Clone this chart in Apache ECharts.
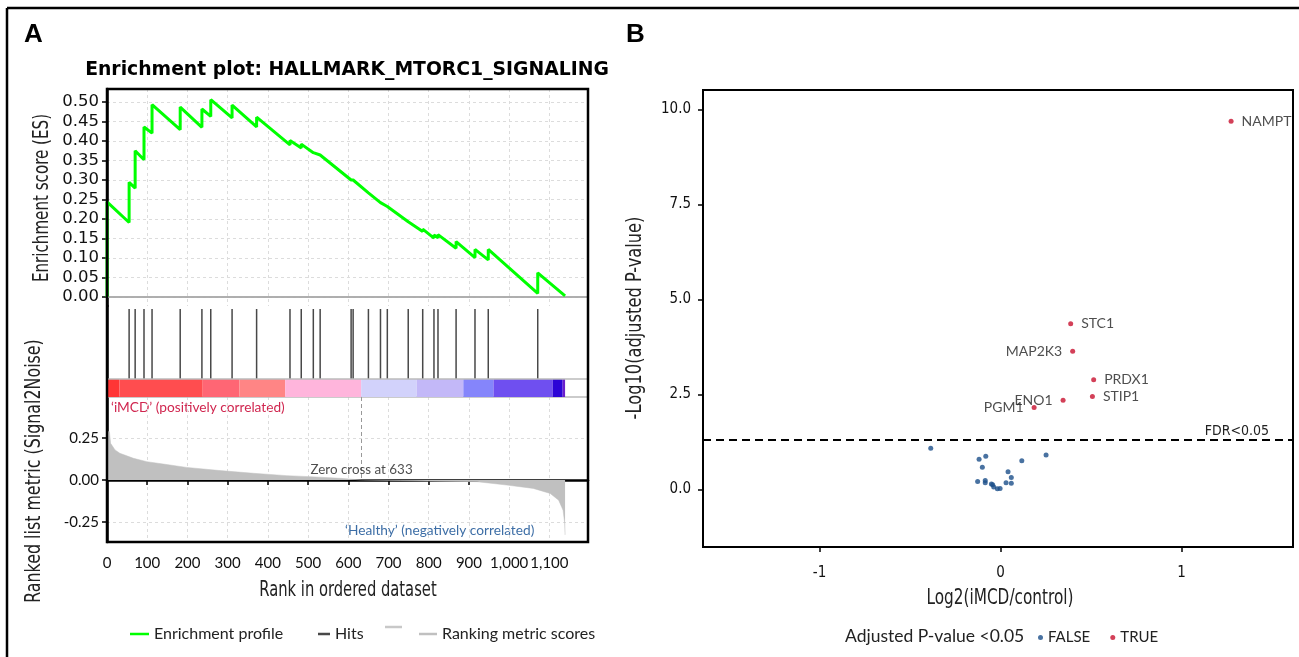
<!DOCTYPE html>
<html><head><meta charset="utf-8">
<script src="https://cdn.jsdelivr.net/npm/echarts@6/dist/echarts.min.js"></script>
<style>html,body{margin:0;padding:0;background:#fff}#c{width:1299px;height:657px}</style>
</head><body><div id="c"></div>
<script>
// ---------------- DATA ----------------
// Running enrichment score vertices (rank, ES)
const esRanks  = [0,0,55,55,70,70,92,92,112,112,182,182,236,236,258,258,311,311,372,372,455,455,483,483,513,513,530,530,607,607,612,612,650,650,680,680,697,697,749,749,785,785,813,813,823,823,868,868,915,915,948,948,1071,1071,1139];
const esValues = [0,0.244,0.191,0.294,0.279,0.375,0.352,0.436,0.420,0.493,0.429,0.487,0.435,0.482,0.463,0.506,0.459,0.492,0.436,0.461,0.390,0.401,0.382,0.392,0.370,0.375,0.364,0.368,0.300,0.304,0.300,0.303,0.267,0.270,0.242,0.246,0.232,0.236,0.193,0.198,0.168,0.174,0.151,0.159,0.152,0.160,0.125,0.142,0.101,0.122,0.095,0.122,0.009,0.062,0.003];
// Gene-set hit positions in the ranked list
const hitRanks = [0,55,70,92,112,182,236,258,311,372,455,483,513,530,607,612,650,680,697,749,785,813,823,868,915,948,1071];
// Ranked list metric (Signal2Noise)
const metricRanks  = [0,6,9,20,32,66,99,140,198,281,364,447,505,580,633,729,800,920,994,1060,1102,1123,1134,1138,1139];
const metricValues = [0.29,0.287,0.218,0.179,0.159,0.129,0.109,0.095,0.075,0.056,0.040,0.026,0.020,0.010,0,-0.003,-0.006,-0.01,-0.03,-0.05,-0.08,-0.12,-0.18,-0.256,-0.327];
// Heat bar segments (rank start / end)
const barStarts = [0,31,238,329,443,632,770,886,961,1108,1133];
const barEnds   = [31,238,329,443,632,770,886,961,1108,1133,1139];
const zeroCross = 633;
const rankTicks = [0,100,200,300,400,500,600,700,800,900,1000,1100];
const esTicks = [0,0.05,0.10,0.15,0.20,0.25,0.30,0.35,0.40,0.45,0.50];
const metricTicks = [-0.25,0,0.25];

// Panel B volcano
const sigGenes   = ['NAMPT','STC1','MAP2K3','PRDX1','STIP1','ENO1','PGM1'];
const sigLog2FC  = [1.273,0.387,0.398,0.514,0.507,0.345,0.185];
const sigNegLogP = [9.69,4.36,3.64,2.89,2.45,2.35,2.16];
const nsLog2FC   = [-0.386,-0.119,-0.082,-0.101,0.117,0.251,0.041,0.059,-0.127,-0.085,-0.085,-0.051,-0.044,-0.038,-0.018,-0.003,0.030,0.059];
const nsNegLogP  = [1.09,0.80,0.88,0.59,0.76,0.91,0.47,0.32,0.21,0.24,0.18,0.15,0.13,0.07,0.02,0.03,0.18,0.17];
const fdrThreshold = 1.301;
const volXTicks = [-1,0,1];
const volYTicks = [0,2.5,5,7.5,10];

// ---------------- STYLE ----------------
const barColors = ['#ff3535','#ff4d4f','#ff6674','#ff8585','#ffb5dc','#d2d2fb','#c3b8f8','#8585fb','#6f4ff0','#2c04d6','#6a1fcc'];
const labelSide = {NAMPT:'right',STC1:'right',MAP2K3:'left',PRDX1:'right',STIP1:'right',ENO1:'left',PGM1:'left'};
const FONT = 'Lato, "Noto Sans", sans-serif';
const WIDE = '"DejaVu Sans", sans-serif';
const COND = '"DejaVu Sans Condensed", "Liberation Sans Narrow", "Roboto Condensed", Roboto, sans-serif';
const XMAX = 1196;

const chart = echarts.init(document.getElementById('c'), null, {renderer:'canvas'});
const gridDash = {show:true, lineStyle:{color:'#dcdcdc', type:[3,3], width:1}};
const rankAxisBase = {type:'value', min:0, max:XMAX, interval:100, axisLabel:{show:false}, axisTick:{show:false}};

const option = {
  backgroundColor:'#fff',
  animation:false,
  textStyle:{fontFamily:FONT},
  grid:[
    {left:107, right:1299-588, top:89, height:217},      // ES
    {left:107, right:1299-588, top:306, height:91},      // hits + bar
    {left:107, right:1299-588, top:397, height:145},     // metric
    {left:703, right:6, top:90, bottom:110, show:true, borderColor:'#000', borderWidth:2} // volcano
  ],
  xAxis:[
    Object.assign({}, rankAxisBase, {gridIndex:0, axisLine:{show:true, lineStyle:{color:'#aaa', width:1.5}}, splitLine:gridDash}),
    Object.assign({}, rankAxisBase, {gridIndex:1, axisLine:{show:true, lineStyle:{color:'#bbb', width:1.5}}, splitLine:{show:false}}),
    Object.assign({}, rankAxisBase, {gridIndex:2, axisLine:{show:true, lineStyle:{color:'#000', width:2.5}},
      axisTick:{show:true, inside:false, length:5, customValues:rankTicks, lineStyle:{color:'#000', width:1.5}},
      axisLabel:{show:true, customValues:rankTicks, margin:14, fontSize:15, color:'#111', fontFamily:FONT,
        formatter:v=>v.toLocaleString('en-US')}, splitLine:gridDash}),
    {type:'value', gridIndex:3, min:-1.644, max:1.615,
      axisLine:{show:true, onZero:false, lineStyle:{color:'#000', width:2}},
      axisTick:{show:true, length:5, customValues:volXTicks, lineStyle:{color:'#000', width:1.5}},
      axisLabel:{show:true, customValues:volXTicks, margin:19, fontSize:15, color:'#111', fontFamily:COND},
      splitLine:{show:false}}
  ],
  yAxis:[
    {type:'value', gridIndex:0, min:-0.0231, max:0.5333,
      axisLine:{show:true, lineStyle:{color:'#000', width:2.5}},
      axisTick:{show:true, length:5, customValues:esTicks, lineStyle:{color:'#000', width:1.5}},
      axisLabel:{show:true, customValues:esTicks, margin:8, fontSize:16.5, color:'#111', fontFamily:WIDE, formatter:v=>v.toFixed(2)},
      splitLine:gridDash},
    {type:'value', gridIndex:1, min:0, max:1, axisLine:{show:true, lineStyle:{color:'#000', width:2.5}},
      axisTick:{show:false}, axisLabel:{show:false}, splitLine:{show:false}},
    {type:'value', gridIndex:2, min:-0.369, max:0.494,
      axisLine:{show:true, lineStyle:{color:'#000', width:2.5}},
      axisTick:{show:true, length:5, customValues:metricTicks, lineStyle:{color:'#000', width:1.5}},
      axisLabel:{show:true, customValues:metricTicks, margin:8, fontSize:15, color:'#111', formatter:v=>v.toFixed(2)},
      splitLine:gridDash},
    {type:'value', gridIndex:3, min:-1.51, max:10.51,
      axisLine:{show:true, onZero:false, lineStyle:{color:'#000', width:2}},
      axisTick:{show:true, length:5, customValues:volYTicks, lineStyle:{color:'#000', width:1.5}},
      axisLabel:{show:true, customValues:volYTicks, margin:12, fontSize:15, color:'#111', fontFamily:COND, formatter:v=>v.toFixed(1)},
      splitLine:{show:false}}
  ],
  legend:[
    {data:['Enrichment profile'], left:130, top:626, padding:0, icon:'rect', itemWidth:19, itemHeight:2.5,
      textStyle:{fontSize:16, color:'#222', fontFamily:FONT}},
    {data:['Hits'], left:318, top:626, padding:0, icon:'rect', itemWidth:12, itemHeight:2.5,
      textStyle:{fontSize:16, color:'#222', fontFamily:FONT}},
    {data:['Ranking metric scores'], left:419, top:626, padding:0, icon:'rect', itemWidth:18, itemHeight:2.5,
      textStyle:{fontSize:16, color:'#222', fontFamily:FONT}},
    {data:['FALSE','TRUE'], left:1038, top:630, padding:0, icon:'circle', itemWidth:5, itemHeight:5, itemGap:20,
      textStyle:{fontSize:15, color:'#222', fontFamily:FONT}}
  ],
  series:[
    {name:'Enrichment profile', type:'line', xAxisIndex:0, yAxisIndex:0, showSymbol:false, z:5,
      data:esRanks.map((r,i)=>[r, esValues[i]]),
      itemStyle:{color:'#00ff00'}, lineStyle:{color:'#00ff00', width:3},
      markLine:{silent:true, symbol:'none', label:{show:false}, lineStyle:{color:'#aaa', type:'solid', width:1.5},
        data:[{yAxis:0}]}},
    {name:'Hits', type:'scatter', xAxisIndex:1, yAxisIndex:1, symbol:'rect', symbolSize:[1.5,70], z:4,
      data:hitRanks.map(r=>[r, 0.5825]), itemStyle:{color:'#1a1a1a'}},
    {name:'heatbar', type:'custom', xAxisIndex:1, yAxisIndex:1, z:3,
      data:barStarts.map((s,i)=>[s, barEnds[i]]),
      encode:{x:[0,1]},
      renderItem:(params, api)=>{
        const a = api.coord([api.value(0), 0.198]);
        const b = api.coord([api.value(1), 0]);
        return {type:'rect', shape:{x:a[0], y:a[1], width:b[0]-a[0], height:b[1]-a[1]},
          style:{fill:barColors[params.dataIndex]}};
      },
      markLine:{silent:true, symbol:'none', label:{show:false}, lineStyle:{color:'#bbb', type:'solid', width:1.5},
        data:[{yAxis:0.198}]}},
    {name:'Ranking metric scores', type:'line', xAxisIndex:2, yAxisIndex:2, showSymbol:false, z:3,
      data:metricRanks.map((r,i)=>[r, metricValues[i]]),
      itemStyle:{color:'#c0c0c0'}, lineStyle:{color:'#c0c0c0', width:0.5},
      areaStyle:{color:'#c0c0c0', opacity:1, origin:0},
      markLine:{silent:true, symbol:'none', label:{show:false}, lineStyle:{color:'#999', type:[4,3], width:1},
        data:[[{coord:[zeroCross, 0.494]},{coord:[zeroCross, 0]}]]}},
    {name:'zerocross', type:'scatter', xAxisIndex:2, yAxisIndex:2, symbolSize:0, z:6,
      data:[[zeroCross, 0.06]],
      label:{show:true, position:'inside', formatter:'Zero cross at ' + zeroCross, fontSize:13.4, color:'#222', fontFamily:FONT}},
    {name:'FALSE', type:'scatter', xAxisIndex:3, yAxisIndex:3, symbolSize:5,
      data:nsLog2FC.map((x,i)=>[x, nsNegLogP[i]]), itemStyle:{color:'#1b4f8a'},
      markLine:{silent:true, symbol:'none', lineStyle:{color:'#000', type:[8,5], width:2},
        label:{show:true, position:'insideEndTop', distance:2, formatter:'FDR<0.05', fontSize:14, color:'#222', fontFamily:COND, padding:[0,22,0,0]},
        data:[{yAxis:fdrThreshold}]}},
    {name:'TRUE', type:'scatter', xAxisIndex:3, yAxisIndex:3, symbolSize:5,
      data:sigGenes.map((g,i)=>({name:g, value:[sigLog2FC[i], sigNegLogP[i]],
        label:{position:labelSide[g]}})),
      itemStyle:{color:'#c8102e'},
      label:{show:true, formatter:'{b}', distance:8, fontSize:14, color:'#222', fontFamily:FONT}}
  ],
  graphic:[
    {type:'line', shape:{x1:7, y1:8, x2:1299, y2:8}, style:{stroke:'#000', lineWidth:2.5}},
    {type:'line', shape:{x1:7, y1:8, x2:7, y2:657}, style:{stroke:'#000', lineWidth:2.5}},
    {type:'rect', z:100, shape:{x:107, y:89, width:481, height:453}, style:{fill:null, stroke:'#000', lineWidth:2.5}},
    {type:'text', x:24, y:22, style:{text:'A', font:'bold 26px "Liberation Sans", Arial, sans-serif', fill:'#000'}},
    {type:'text', x:626, y:22, style:{text:'B', font:'bold 26px "Liberation Sans", Arial, sans-serif', fill:'#000'}},
    {type:'text', x:347, y:70, style:{text:'Enrichment plot: HALLMARK_MTORC1_SIGNALING', font:'bold 18.8px "DejaVu Sans", sans-serif', fill:'#000', align:'center', verticalAlign:'middle'}},
    {type:'text', x:43, y:198, rotation:Math.PI/2, scaleX:0.8, style:{text:'Enrichment score (ES)', font:'21px ' + COND, fill:'#222', align:'center', verticalAlign:'middle'}},
    {type:'text', x:35, y:471, rotation:Math.PI/2, scaleX:0.84, style:{text:'Ranked list metric (Signal2Noise)', font:'21px ' + COND, fill:'#222', align:'center', verticalAlign:'middle'}},
    {type:'text', x:348, y:591, scaleX:0.78, style:{text:'Rank in ordered dataset', font:'21px ' + COND, fill:'#222', align:'center', verticalAlign:'middle'}},
    {type:'text', x:111, y:408, style:{text:'\u2018iMCD\u2019 (positively correlated)', font:'13.7px ' + FONT, fill:'#d0264f', verticalAlign:'middle'}},
    {type:'text', x:345, y:531, style:{text:'\u2018Healthy\u2019 (negatively correlated)', font:'13.7px ' + FONT, fill:'#3d6ea6', verticalAlign:'middle'}},
    {type:'line', shape:{x1:385, y1:627, x2:402, y2:627}, style:{stroke:'#c8c8c8', lineWidth:2.5}},
    {type:'text', x:636, y:318, rotation:Math.PI/2, scaleX:0.86, style:{text:'-Log10(adjusted P-value)', font:'21px ' + COND, fill:'#222', align:'center', verticalAlign:'middle'}},
    {type:'text', x:1000, y:599, scaleX:0.81, style:{text:'Log2(iMCD/control)', font:'21px ' + COND, fill:'#222', align:'center', verticalAlign:'middle'}},
    {type:'text', x:845, y:636, style:{text:'Adjusted P-value <0.05', font:'17.5px ' + FONT, fill:'#222', verticalAlign:'middle'}}
  ]
};
chart.setOption(option);
</script>
</body></html>
